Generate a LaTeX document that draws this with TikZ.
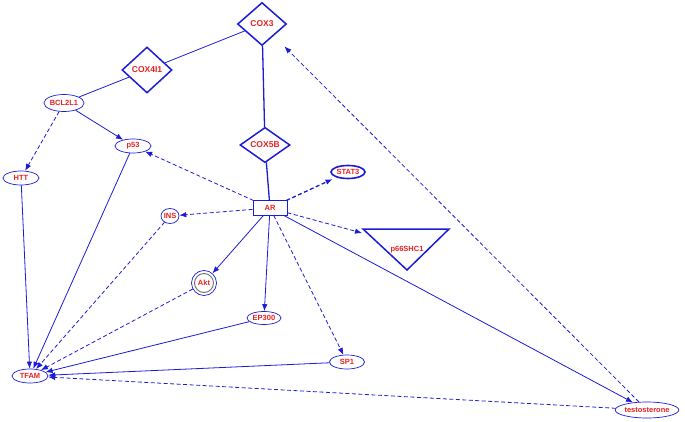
\documentclass[tikz,border=0pt]{standalone}
\usepackage{fontspec}
\setmainfont{Liberation Sans}
\usetikzlibrary{shapes.geometric,arrows.meta}
\definecolor{eb}{RGB}{28,28,215}
\definecolor{tr}{RGB}{232,32,32}
\definecolor{gr}{RGB}{110,110,110}
\begin{document}
\begin{tikzpicture}[x=1pt,y=-1pt,
  lbl/.style={font=\bfseries\fontsize{7.5}{8}\selectfont, text=tr, inner sep=0pt},
  ell/.style={lbl, ellipse, draw=eb, line width=0.7pt},
  dia/.style={lbl, font=\bfseries\fontsize{8.5}{9}\selectfont, diamond, draw=eb, line width=1.5pt},
  ed/.style={draw=eb, line width=0.8pt},
  arr/.style={ed, -{Latex[length=7pt,width=5.5pt]}},
  dsh/.style={dash pattern=on 4pt off 2.5pt}]
\useasboundingbox (0,0) rectangle (685,422);
% nodes
\node[dia, minimum width=49, minimum height=43] (cox3) at (262,24) {COX3};
\node[dia, minimum width=50, minimum height=46] (cox4) at (147,70) {COX4I1};
\node[dia, minimum width=50, minimum height=32] (cox5b) at (265,145) {COX5B};
\node[ell, minimum width=37, minimum height=17] (bcl) at (64,103) {BCL2L1};
\node[ell, minimum width=36, minimum height=14] (p53) at (133,146) {p53};
\node[ell, minimum width=36, minimum height=14] (htt) at (21,178) {HTT};
\node[ell, line width=1.6pt, minimum width=34, minimum height=13] (stat3) at (348,172) {STAT3};
\node[lbl, rectangle, draw=eb, line width=1pt, minimum width=34, minimum height=14] (ar) at (270,208) {AR};
\node[ell, minimum width=18, minimum height=15] (ins) at (170,216) {INS};
\node[lbl, circle, draw=eb, line width=0.7pt, minimum size=25] (akt) at (204,283) {};
\draw[gr, line width=0.9pt] (akt.center) circle (9.5);
\node[lbl] (aktl) at (akt.center) {Akt};
\node[ell, minimum width=34, minimum height=13] (ep300) at (264,318) {EP300};
\node[ell, minimum width=35, minimum height=14] (sp1) at (347,362) {SP1};
\node[ell, minimum width=36, minimum height=14] (tfam) at (30,376) {TFAM};
\node[ell, minimum width=54, minimum height=16] (test) at (647,410) {testosterone};
\draw[eb, line width=1.5pt, line join=miter] (363,229) -- (449,229) -- (407,270) -- cycle;
\node[lbl] (p66) at (407,250) {p66SHC1};
\coordinate (p66in) at (362,233);
% edges
\draw[ed] (cox3) -- (cox4);
\draw[ed] (cox4) -- (bcl);
\draw[ed, line width=1.3pt] (cox3) -- (cox5b);
\draw[ed, line width=1.3pt] (cox5b) -- (ar);
\draw[arr, dsh] (bcl) -- (htt);
\draw[arr] (bcl) -- (p53);
\draw[arr, dsh] (ar) -- (p53);
\draw[arr, dsh, line width=1.3pt, shorten >=4pt] (ar) -- (stat3);
\draw[arr, dsh] (ar) -- (ins);
\draw[arr, dsh] (ar) -- (p66in);
\draw[arr] (ar) -- (akt);
\draw[arr] (ar) -- (ep300);
\draw[arr, dsh] (ar) -- (sp1);
\draw[arr] (ar) -- (test);
\draw[arr, dsh, shorten >=15pt] (test) -- (cox3);
\draw[arr, dsh] (test) -- (tfam);
\draw[arr] (htt) -- (tfam);
\draw[arr] (p53) -- (tfam);
\draw[arr, dsh] (ins) -- (tfam);
\draw[arr, dsh] (akt) -- (tfam);
\draw[arr] (ep300) -- (tfam);
\draw[arr] (sp1) -- (tfam);
\end{tikzpicture}
\end{document}
